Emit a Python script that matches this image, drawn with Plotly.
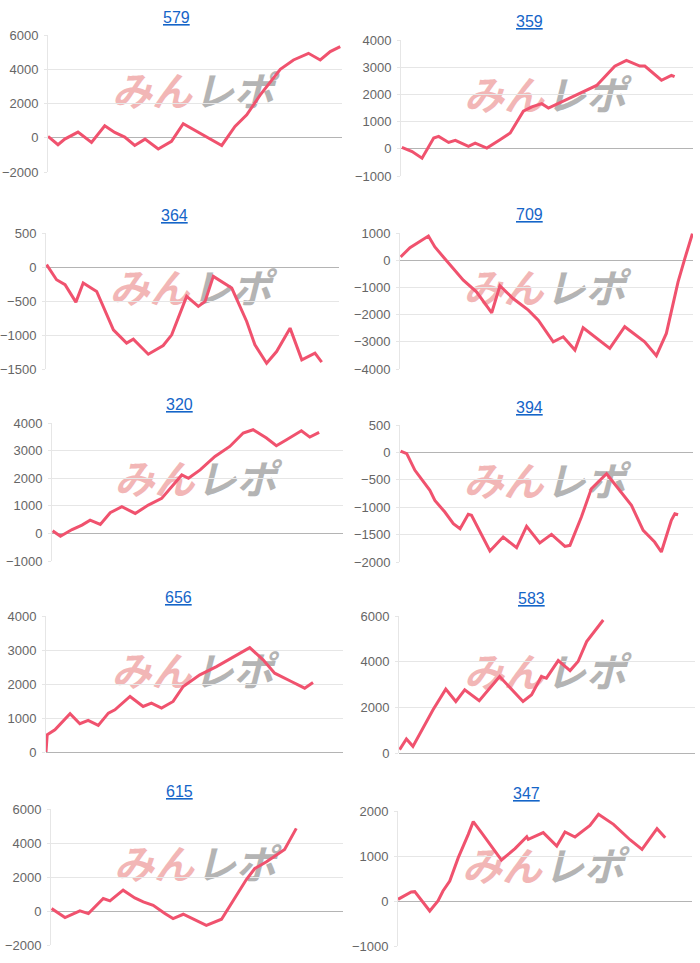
import plotly.graph_objects as go

TITLES = ["579", "359", "364", "709", "320", "394", "656", "583", "615", "347"]

X_579 = [0, 3.4, 5.7, 10.2, 14.8, 19.3, 22.7, 26.1, 29.5, 33.0, 37.5, 42.0, 46.0, 50.6, 54.5, 59.1, 63.6, 67.6, 72.2, 79.0, 83.5, 88.6, 92.6, 96.0, 99.4]
Y_579 = [80, -410, -80, 330, -270, 700, 310, 40, -450, -80, -660, -210, 820, 370, -20, -450, 660, 1340, 2500, 4000, 4540, 4930, 4540, 5030, 5320]

X_359 = [0.3, 3.8, 7.2, 11.2, 12.9, 16.3, 18.6, 23.1, 25.4, 29.4, 33.9, 37.4, 41.9, 44.8, 48.2, 50.5, 67.0, 73.2, 77.2, 81.8, 83.5, 89.2, 92.6, 93.7]
Y_359 = [50, -100, -345, 394, 455, 234, 308, 86, 209, 25, 332, 579, 1380, 1540, 1660, 1500, 2330, 3040, 3250, 3040, 3040, 2520, 2700, 2650]

X_364 = [0.2, 3.6, 6.5, 10.2, 12.7, 17.3, 23.0, 27.5, 29.8, 34.9, 40.0, 42.9, 48.0, 52.0, 54.3, 57.1, 63.4, 68.5, 71.3, 75.3, 78.7, 83.3, 87.3, 91.8, 94.1]
Y_364 = [35, -187, -260, -516, -236, -359, -924, -1120, -1061, -1283, -1155, -998, -432, -580, -506, -138, -310, -801, -1145, -1415, -1243, -899, -1366, -1268, -1400]

X_709 = [0.2, 3.4, 9.7, 11.9, 14.8, 21.6, 26.1, 31.3, 34.1, 38.6, 43.8, 47.2, 52.3, 55.7, 59.7, 62.5, 71.6, 76.7, 83.5, 87.5, 90.9, 94.9, 97.2, 99.8]
Y_709 = [120, 460, 890, 486, 120, -735, -1163, -1934, -944, -1408, -1836, -2203, -2998, -2815, -3304, -2485, -3243, -2445, -2998, -3512, -2693, -798, 58, 975]

X_320 = [0.2, 2.9, 6.9, 10.3, 13.1, 16.6, 20.0, 24.0, 28.6, 33.1, 37.7, 44.6, 46.9, 50.9, 56.0, 61.1, 65.7, 69.1, 73.7, 77.1, 80.6, 85.7, 88.6, 91.8]
Y_320 = [92, -104, 141, 299, 481, 323, 748, 966, 723, 1027, 1269, 2119, 1998, 2301, 2786, 3150, 3636, 3757, 3454, 3175, 3393, 3721, 3490, 3660]

X_394 = [0.2, 2.3, 5.1, 10.2, 11.9, 15.3, 18.2, 20.5, 23.3, 24.4, 30.7, 35.2, 39.8, 43.2, 47.7, 51.7, 56.3, 58.0, 61.9, 65.3, 70.5, 74.4, 79.0, 83.0, 86.9, 89.2, 92.6, 93.8, 94.9]
Y_394 = [25, -23, -327, -692, -875, -1088, -1301, -1393, -1131, -1149, -1800, -1545, -1740, -1350, -1654, -1496, -1715, -1696, -1180, -663, -389, -663, -967, -1423, -1636, -1818, -1240, -1119, -1137]

X_656 = [0, 0.4, 3.0, 8.1, 11.4, 14.2, 17.6, 21.0, 23.2, 28.3, 32.7, 35.5, 38.9, 42.8, 46.2, 51.8, 57.4, 63.0, 68.6, 73.1, 77.0, 82.6, 87.1, 89.9]
Y_656 = [0, 509, 655, 1125, 831, 929, 782, 1144, 1242, 1633, 1340, 1438, 1291, 1487, 1927, 2269, 2513, 2787, 3071, 2709, 2318, 2073, 1878, 2044]

X_583 = [0.2, 2.5, 4.7, 7.6, 11.5, 15.8, 19.2, 22.2, 27.1, 34.0, 41.9, 44.8, 48.1, 49.8, 53.8, 57.8, 60.5, 63.4, 69.0]
Y_583 = [146, 612, 291, 947, 1893, 2796, 2257, 2767, 2286, 3349, 2257, 2549, 3349, 3276, 4048, 3611, 4005, 4878, 5825]

X_615 = [0.2, 4.8, 9.9, 12.8, 17.9, 20.2, 24.7, 28.7, 31.6, 35.0, 39.0, 41.8, 45.3, 53.2, 58.4, 61.2, 66.9, 69.8, 73.8, 80.0, 81.8, 84.0]
Y_615 = [143, -388, 5, -152, 732, 595, 1224, 772, 536, 339, -152, -447, -191, -840, -486, 300, 1853, 2501, 2895, 3622, 4173, 4861]

X_347 = [0, 4.5, 5.7, 10.8, 13.6, 15.3, 17.6, 20.5, 23.9, 25.6, 28.4, 35.2, 39.8, 43.8, 44.3, 49.4, 54.0, 56.8, 60.2, 65.3, 68.2, 73.3, 79.0, 83.0, 88.1, 90.9]
Y_347 = [37, 200, 207, -222, 0, 222, 444, 963, 1481, 1763, 1519, 911, 1163, 1430, 1370, 1519, 1222, 1533, 1422, 1681, 1926, 1704, 1356, 1148, 1607, 1407]

Y_RANGES = [(-2000, 6000, 2000), (-1000, 4000, 1000), (-1500, 500, 500), (-4000, 1000, 1000),
            (-1000, 4000, 1000), (-2000, 500, 500), (0, 4000, 1000), (0, 6000, 2000),
            (-2000, 6000, 2000), (-1000, 2000, 1000)]

SERIES_X = [X_579, X_359, X_364, X_709, X_320, X_394, X_656, X_583, X_615, X_347]
SERIES_Y = [Y_579, Y_359, Y_364, Y_709, Y_320, Y_394, Y_656, Y_583, Y_615, Y_347]

W, H = 700, 963
# plot boxes in pixels: x0, x1, ytop, ybottom
BOXES = [(48, 342, 35, 172), (401, 693, 40, 176),
         (46, 339, 233, 369), (400, 693, 233, 369),
         (52, 343, 423, 561), (400, 693, 425, 562),
         (46, 343, 616, 752), (399, 695, 616, 753),
         (51, 343, 809, 945), (398, 692, 811, 946)]
TITLE_POS = [(177, 17), (529, 21), (174, 215), (529, 214), (180, 405),
             (529, 407), (178, 597), (531, 598), (179, 791), (526, 793)]

LINE_COLOR = "rgb(240,82,110)"
GRID = "#e6e6e6"

fig = go.Figure()
layout = dict(width=W, height=H, margin=dict(l=0, r=0, t=0, b=0, pad=0, autoexpand=False),
              paper_bgcolor="white", plot_bgcolor="white", showlegend=False)
annotations = []
shapes = []

for i in range(10):
    n = i + 1
    xa = "x" if n == 1 else f"x{n}"
    ya = "y" if n == 1 else f"y{n}"
    x0, x1, yt, yb = BOXES[i]
    ymin, ymax, dt = Y_RANGES[i]
    fig.add_trace(go.Scatter(x=SERIES_X[i], y=SERIES_Y[i], mode="lines",
                             line=dict(color=LINE_COLOR, width=3),
                             xaxis=xa, yaxis=ya, hoverinfo="skip"))
    layout["xaxis" if n == 1 else f"xaxis{n}"] = dict(
        domain=[x0 / W, x1 / W], range=[0, 100], visible=False, anchor=ya, automargin=False)
    layout["yaxis" if n == 1 else f"yaxis{n}"] = dict(
        domain=[1 - yb / H, 1 - yt / H], range=[ymin, ymax], tick0=ymin, dtick=dt,
        anchor=xa, showgrid=True, gridcolor=GRID, gridwidth=1, automargin=False,
        zeroline=True, zerolinecolor="#b4b4b4", zerolinewidth=1,
        showline=True, linecolor=GRID, linewidth=1,
        ticks="outside", ticklen=3, tickcolor=GRID, ticklabelstandoff=3,
        tickfont=dict(family="Liberation Sans, Arial", size=13, color="#666666"),
        fixedrange=True)
    tx, ty = TITLE_POS[i]
    annotations.append(dict(text=f"<u>{TITLES[i]}</u>", x=tx / W, y=1 - ty / H,
                            xref="paper", yref="paper", showarrow=False,
                            xanchor="center", yanchor="middle",
                            font=dict(family="Liberation Sans, Arial", size=16, color="#1565c8")))
    # watermark
    cx = (x0 + x1) / 2 - 2
    cy = (yt + yb) / 2 - 9
    for txt, col, off in (("<b>みん</b>", "rgb(242,182,182)", -41), ("<b>レポ</b>", "rgb(180,180,180)", 41)):
        shapes.append(dict(type="rect", xref="paper", yref="paper",
                           x0=(cx + off - 45) / W, x1=(cx + off + 45) / W,
                           y0=1 - (cy + 20) / H, y1=1 - (cy - 20) / H,
                           line=dict(width=0), fillcolor="rgba(0,0,0,0)", layer="below",
                           label=dict(text=txt, textposition="middle center",
                                      font=dict(family="Noto Sans CJK JP", size=40, color=col,
                                                weight=900, style="italic"))))

layout["annotations"] = annotations
layout["shapes"] = shapes
fig.update_layout(**layout)
fig.write_html("out.html")
